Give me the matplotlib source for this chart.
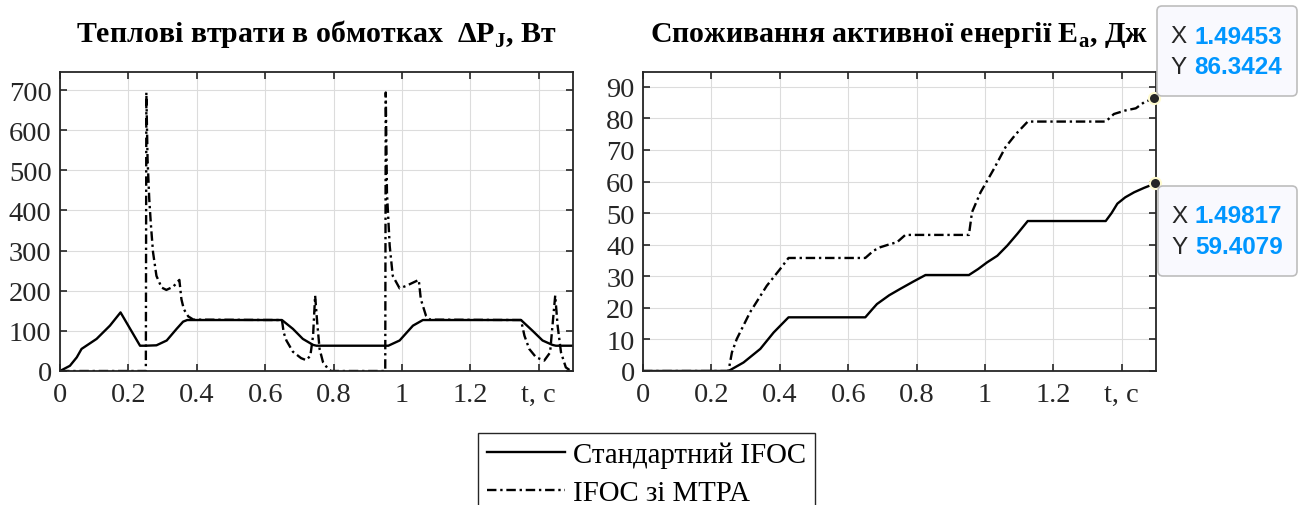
import matplotlib
matplotlib.use('Agg')
import matplotlib.pyplot as plt
from matplotlib.patches import FancyBboxPatch
from matplotlib.lines import Line2D

# --- data ---
# left: winding heat losses, W
t_loss_std = [0, 0.029, 0.049, 0.063, 0.107, 0.146, 0.177, 0.234, 0.25, 0.282, 0.312, 0.341,
              0.36, 0.372, 0.649, 0.681, 0.71, 0.74, 0.75, 0.96, 0.993, 1.032, 1.061, 1.348,
              1.382, 1.411, 1.44, 1.45, 1.5]
p_loss_std = [0, 13, 34, 55, 80, 113, 146, 63, 63, 64, 76, 105,
              123, 127, 127, 105, 80, 65, 63, 63, 76, 113, 127, 127,
              100, 76, 65, 63, 63]

t_loss_mtpa = [0, 0.251, 0.2525, 0.256, 0.261, 0.266, 0.272, 0.282, 0.297, 0.311, 0.331, 0.349,
               0.355, 0.362, 0.375, 0.39, 0.649, 0.654, 0.662, 0.681, 0.705, 0.72, 0.732, 0.74,
               0.746, 0.752, 0.759, 0.769, 0.784, 0.793, 0.951, 0.9525, 0.956, 0.964, 0.973,
               0.993, 1.012, 1.049, 1.055, 1.07, 1.082, 1.348, 1.358, 1.372, 1.392, 1.416,
               1.433, 1.44, 1.448, 1.455, 1.465, 1.479, 1.494, 1.5]
p_loss_mtpa = [0, 0, 694, 528, 428, 362, 296, 237, 208, 202, 210, 227,
               179, 154, 136, 128, 127, 96, 76, 48, 32, 27, 38, 88,
               188, 121, 55, 22, 5, 0, 0, 694, 445, 312, 237,
               206, 212, 227, 179, 138, 128, 127, 88, 55, 34, 26,
               46, 113, 188, 113, 46, 9, 0, 0]

# right: active energy consumption, J
t_en_std = [0, 0.25, 0.294, 0.343, 0.382, 0.4255, 0.65, 0.67, 0.684, 0.72, 0.752, 0.79, 0.826,
            0.953, 0.98, 1.006, 1.036, 1.065, 1.095, 1.125, 1.353, 1.37, 1.387, 1.41, 1.436,
            1.465, 1.49817]
e_std = [0, 0, 2.7, 7.0, 12.2, 17.0, 17.0, 19.5, 21.2, 24.0, 26.0, 28.3, 30.4,
         30.4, 32.3, 34.4, 36.5, 39.7, 43.5, 47.5, 47.5, 50.0, 53.0, 55.0, 56.6,
         58.0, 59.4079]

t_en_mtpa = [0, 0.25, 0.26, 0.274, 0.313, 0.362, 0.401, 0.4255, 0.65, 0.674, 0.694, 0.723,
             0.743, 0.767, 0.953, 0.962, 0.987, 1.026, 1.06, 1.09, 1.125, 1.353, 1.377, 1.41,
             1.441, 1.465, 1.49453]
e_mtpa = [0, 0, 5.9, 10.1, 18.6, 27.0, 32.3, 35.8, 35.8, 38.1, 39.2, 40.2,
          40.8, 43.1, 43.1, 50.3, 56.6, 64.0, 70.9, 75.0, 79.0, 79.0, 81.4, 82.5,
          83.2, 85.1, 86.3424]

xticks = [0, 0.2, 0.4, 0.6, 0.8, 1, 1.2, 1.4]
xticklabels = ['0', '0.2', '0.4', '0.6', '0.8', '1', '1.2', 't, c']
labels = ['Стандартний IFOC', 'IFOC зі MTPA']
tips = [(1.49453, 86.3424), (1.49817, 59.4079)]

plt.rcParams['font.family'] = ['Liberation Serif', 'DejaVu Serif']
plt.rcParams['mathtext.fontset'] = 'custom'
plt.rcParams['mathtext.rm'] = 'Liberation Serif'
plt.rcParams['mathtext.bf'] = 'Liberation Serif:bold'

W, H = 1303, 506
fig = plt.figure(figsize=(W / 100, H / 100), dpi=100)

ax1 = fig.add_axes([60 / W, 1 - 372 / H, 513 / W, 299 / H])
ax2 = fig.add_axes([643 / W, 1 - 372 / H, 513 / W, 299 / H])

dash = (0, (4, 1.6, 1, 1.6))
ax1.plot(t_loss_std, p_loss_std, color='black', lw=1.7)
ax1.plot(t_loss_mtpa, p_loss_mtpa, color='black', lw=1.7, linestyle=dash)
ax2.plot(t_en_std, e_std, color='black', lw=1.7)
ax2.plot(t_en_mtpa, e_mtpa, color='black', lw=1.7, linestyle=dash)

ax1.set_ylim(0, 745)
ax1.set_yticks(range(0, 701, 100))
ax2.set_ylim(0, 94.7)
ax2.set_yticks(range(0, 91, 10))

for ax in (ax1, ax2):
    ax.set_xlim(0, 1.5)
    ax.set_xticks(xticks)
    ax.set_xticklabels(xticklabels)
    ax.grid(True, color='#dcdcdc', lw=0.8)
    ax.set_axisbelow(True)
    ax.tick_params(direction='in', top=True, right=True, length=5, width=1.2,
                   labelsize=20.5, colors='#262626')
    ax.tick_params(axis='x', pad=8)
    ax.tick_params(axis='y', pad=6)
    for s in ax.spines.values():
        s.set_color('#262626')
        s.set_linewidth(1.3)

ax1.set_title('Теплові втрати в обмотках  ΔP$_\\mathbf{J}$, Вт', fontsize=21.5,
              fontweight='bold', pad=22)
ax2.set_title('Споживання активної енергії E$_\\mathbf{a}$, Дж', fontsize=21.5,
              fontweight='bold', pad=22)

# data tips
for x, y in tips:
    ax2.plot([x], [y], 'o', ms=8, mfc='#262626', mec='#fffbd0', mew=1.5, clip_on=False, zorder=5)

boxes = [(1157, 7, 140, 90, tips[0]), (1158, 187, 139, 90, tips[1])]
for bx, by, bw, bh, (tx, ty) in boxes:
    patch = FancyBboxPatch((bx / 100, (H - by - bh) / 100), bw / 100, bh / 100,
                           boxstyle='round,pad=0,rounding_size=0.05',
                           transform=fig.dpi_scale_trans, facecolor='#f9f9fe',
                           edgecolor='#bdbdbd', lw=1.2, zorder=10)
    fig.add_artist(patch)
    for row, (name, val) in enumerate([('X', f'{tx:g}'), ('Y', f'{ty:g}')]):
        yy = 1 - (by + 30 + 31 * row) / H
        fig.text((bx + 13) / W, yy, name, fontsize=17.5, family='Liberation Sans',
                 color='#262626', va='center', zorder=11)
        fig.text((bx + 37) / W, yy, val, fontsize=17.5, family='Liberation Sans',
                 fontweight='bold', color='#0096ff', va='center', zorder=11)

handles = [Line2D([], [], color='black', lw=1.7),
           Line2D([], [], color='black', lw=1.7, linestyle=dash)]
leg = fig.legend(handles, labels, loc='upper left', bbox_to_anchor=(478 / W, 1 - 434 / H),
                 borderaxespad=0, fontsize=20.8, fancybox=False, framealpha=1,
                 edgecolor='#262626', handlelength=2.7, handletextpad=0.3,
                 borderpad=0.3, labelspacing=0.4)
leg.get_frame().set_linewidth(1.0)

fig.savefig('out.png', dpi=100)
